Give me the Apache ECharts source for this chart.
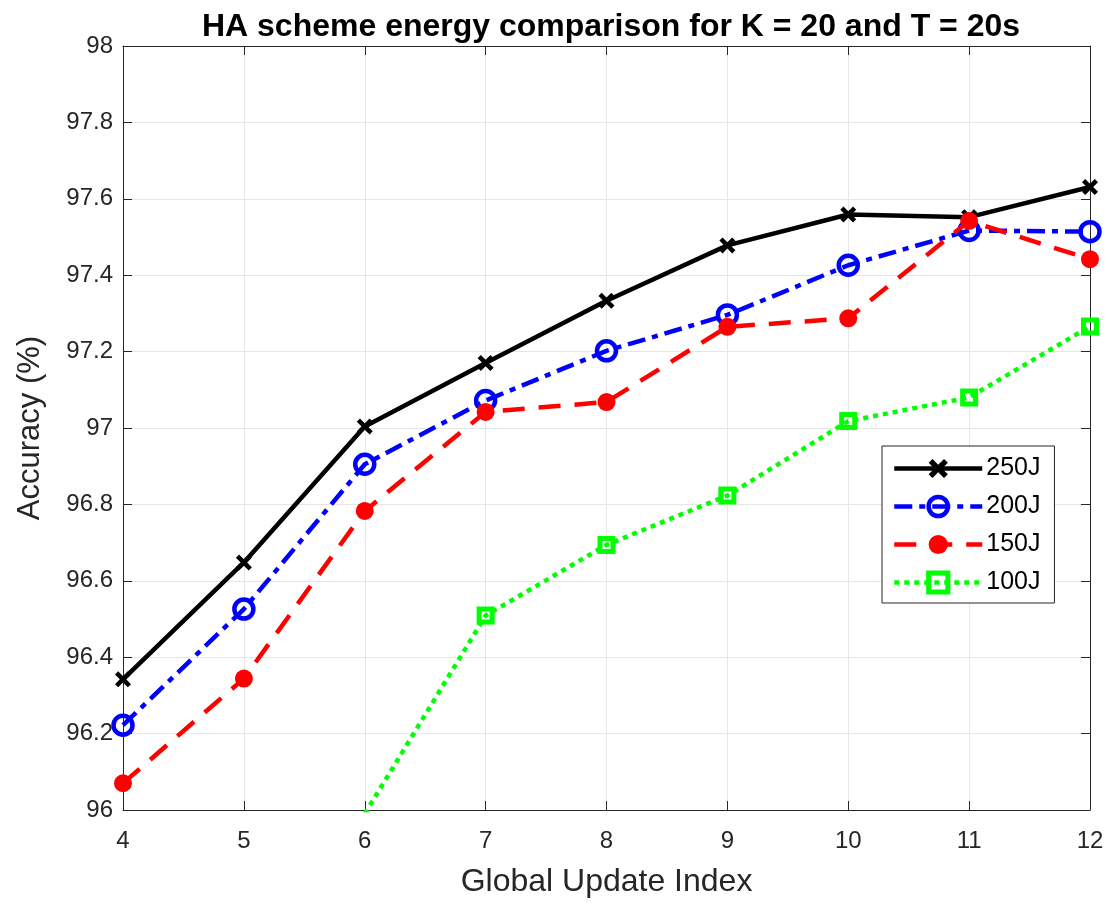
<!DOCTYPE html>
<html>
<head>
<meta charset="utf-8">
<script src="https://cdn.jsdelivr.net/npm/echarts@6/dist/echarts.min.js"></script>
<style>
  html, body { margin: 0; padding: 0; background: #ffffff; }
  #chart { width: 1112px; height: 905px; }
</style>
</head>
<body>
<div id="chart"></div>
<script>
// Global update indices (x axis)
const updateIndex = [4, 5, 6, 7, 8, 9, 10, 11, 12];

// Accuracy (%) per energy budget
const acc250J = [96.342, 96.648, 97.004, 97.170, 97.333, 97.478, 97.559, 97.552, 97.631];
const acc200J = [96.222, 96.526, 96.905, 97.072, 97.202, 97.296, 97.426, 97.517, 97.514];
const acc150J = [96.070, 96.344, 96.783, 97.042, 97.068, 97.265, 97.287, 97.542, 97.442];
const acc100J = [null, null, 95.990, 96.509, 96.694, 96.823, 97.018, 97.080, 97.266];

const seriesNames = ['250J', '200J', '150J', '100J'];
const yTicks = ['96', '96.2', '96.4', '96.6', '96.8', '97', '97.2', '97.4', '97.6', '97.8', '98'];

const FONT = '"Liberation Sans", Arial, Helvetica, sans-serif';
const AXIS_COLOR = '#262626';
const GRID_COLOR = '#e6e6e6';
const LINE_W = 4.5;

const pairs = vals => updateIndex.map((x, i) => [x, vals[i] == null ? null : vals[i]]);

// x-shaped marker as a filled outline
const crossPath = 'path://M2,0 L5,3 L8,0 L10,2 L7,5 L10,8 L8,10 L5,7 L2,10 L0,8 L3,5 L0,2 Z';

const chart = echarts.init(document.getElementById('chart'), null, { renderer: 'canvas' });

const mirrorX = {
  type: 'value', min: 4, max: 12, interval: 1, position: 'top',
  axisLine: { show: true, onZero: false, lineStyle: { color: AXIS_COLOR, width: 1 } },
  axisTick: { show: true, inside: true, length: 9, lineStyle: { color: AXIS_COLOR } },
  axisLabel: { show: false }, splitLine: { show: false }
};
const mirrorY = {
  type: 'value', min: 96, max: 98, interval: 0.2, position: 'right',
  axisLine: { show: true, onZero: false, lineStyle: { color: AXIS_COLOR, width: 1 } },
  axisTick: { show: true, inside: true, length: 9, lineStyle: { color: AXIS_COLOR } },
  axisLabel: { show: false }, splitLine: { show: false }
};

chart.setOption({
  animation: false,
  backgroundColor: '#ffffff',
  title: {
    text: 'HA scheme energy comparison for K = 20 and T = 20s',
    left: 606, textAlign: 'center', top: 6,
    textStyle: { fontFamily: FONT, fontSize: 32, fontWeight: 'bold', color: '#000000' }
  },
  grid: { left: 123, right: 22, top: 46, bottom: 95, containLabel: false },
  legend: {
    data: [
      { name: '250J' },
      { name: '200J', itemStyle: { borderWidth: LINE_W } },
      { name: '150J' },
      { name: '100J', itemStyle: { borderWidth: 5 } }
    ],
    orient: 'vertical',
    left: 882, top: 446,
    padding: [10, 14, 8, 10],
    itemWidth: 88, itemHeight: 24, itemGap: 13,
    lineStyle: { width: LINE_W },
    backgroundColor: '#ffffff',
    borderColor: AXIS_COLOR, borderWidth: 1, borderRadius: 0,
    textStyle: { fontFamily: FONT, fontSize: 25, color: '#000000', padding: [0, 0, 0, -1] }
  },
  xAxis: [{
    type: 'value', min: 4, max: 12, interval: 1, position: 'bottom',
    name: 'Global Update Index', nameLocation: 'middle', nameGap: 56,
    nameTextStyle: { fontFamily: FONT, fontSize: 32, color: AXIS_COLOR },
    axisLine: { show: true, onZero: false, lineStyle: { color: AXIS_COLOR, width: 1 } },
    axisTick: { show: true, inside: true, length: 9, lineStyle: { color: AXIS_COLOR } },
    axisLabel: { fontFamily: FONT, fontSize: 24, color: AXIS_COLOR, margin: 19 },
    splitLine: { show: true, lineStyle: { color: GRID_COLOR, width: 1 } }
  }, mirrorX],
  yAxis: [{
    type: 'value', min: 96, max: 98, interval: 0.2, position: 'left',
    name: 'Accuracy (%)', nameLocation: 'middle', nameGap: 77,
    nameTextStyle: { fontFamily: FONT, fontSize: 31, color: AXIS_COLOR },
    axisLine: { show: true, onZero: false, lineStyle: { color: AXIS_COLOR, width: 1 } },
    axisTick: { show: true, inside: true, length: 9, lineStyle: { color: AXIS_COLOR } },
    axisLabel: {
      fontFamily: FONT, fontSize: 24, color: AXIS_COLOR, margin: 10,
      formatter: v => yTicks[Math.round((v - 96) / 0.2)]
    },
    splitLine: { show: true, lineStyle: { color: GRID_COLOR, width: 1 } }
  }, mirrorY],
  series: [
    {
      name: '250J', type: 'line', data: pairs(acc250J), clip: true,
      symbol: crossPath, symbolSize: 16,
      lineStyle: { color: '#000000', width: LINE_W, type: 'solid' },
      itemStyle: { color: '#000000' }, z: 5
    },
    {
      name: '200J', type: 'line', data: pairs(acc200J), clip: true,
      symbol: 'circle', symbolSize: 19,
      lineStyle: { color: '#0000ff', width: LINE_W, type: [18, 7, 6, 7] },
      itemStyle: { color: 'rgba(255,255,255,0)', borderColor: '#0000ff', borderWidth: LINE_W }, z: 4
    },
    {
      name: '150J', type: 'line', data: pairs(acc150J), clip: true,
      symbol: 'circle', symbolSize: 18,
      lineStyle: { color: '#ff0000', width: LINE_W, type: [22, 14] },
      itemStyle: { color: '#ff0000' }, z: 6
    },
    {
      name: '100J', type: 'line', data: pairs(acc100J), clip: true, connectNulls: false,
      symbol: 'rect', symbolSize: 13,
      lineStyle: { color: '#00ff00', width: LINE_W, type: [5, 5] },
      itemStyle: { color: 'rgba(255,255,255,0)', borderColor: '#00ff00', borderWidth: 5 }, z: 3
    }
  ]
});
</script>
</body>
</html>
